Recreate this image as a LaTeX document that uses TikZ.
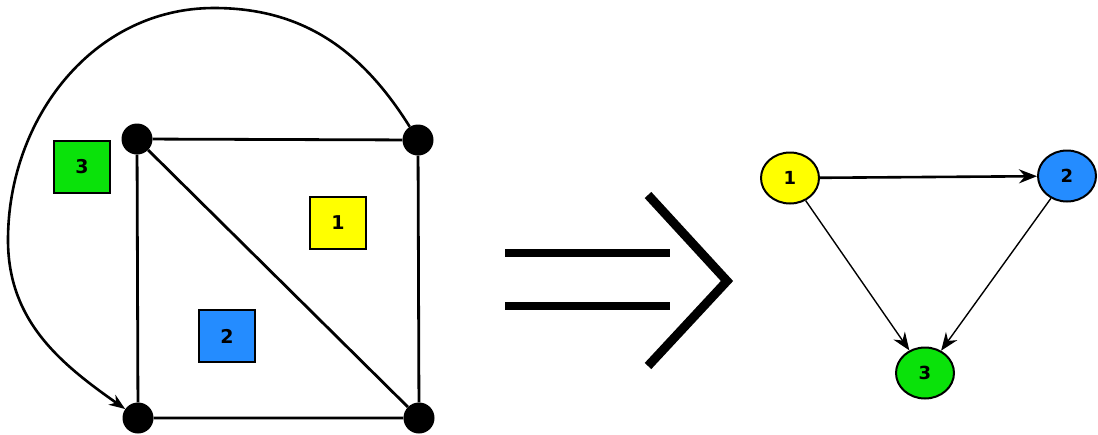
\documentclass[tikz,border=0pt]{standalone}
\usepackage{fontspec}
\setsansfont{DejaVu Sans}
\usetikzlibrary{arrows.meta,shapes.geometric}
\definecolor{cgreen}{RGB}{10,226,10}
\definecolor{cyellow}{RGB}{255,255,0}
\definecolor{cblue}{RGB}{36,140,255}
\begin{document}
\begin{tikzpicture}[x=1pt,y=-1pt,
  vdot/.style={circle,fill=black,minimum size=31pt,inner sep=0pt},
  face/.style={draw=black,line width=2.2pt,minimum width=56pt,minimum height=52pt,inner sep=0pt,
    font=\sffamily\bfseries\fontsize{19}{19}\selectfont},
  gnode/.style={ellipse,draw=black,line width=2pt,minimum width=58pt,minimum height=51pt,inner sep=0pt,
    font=\sffamily\bfseries\fontsize{18}{18}\selectfont},
  sqedge/.style={line width=2.8pt},
  implies/.style={line width=8pt},
  thickarr/.style={line width=2.6pt,-{Stealth[length=18pt,width=14pt,inset=6pt]}},
  thinarr/.style={line width=1.4pt,-{Stealth[length=18pt,width=14pt,inset=6pt]}}]
\useasboundingbox (0,0) rectangle (1098,434);
% left planar graph
\node[vdot] (tl) at (137,139) {};
\node[vdot] (tr) at (418,140) {};
\node[vdot] (bl) at (138,418) {};
\node[vdot] (br) at (419,418) {};
\draw[sqedge] (tl) -- (tr) -- (br) -- (bl) -- (tl);
\draw[sqedge] (tl) -- (br);
\coordinate (arcTop) at (214,8);
\coordinate (arcLeft) at (8,240);
\draw[line width=2.6pt,-{Stealth[length=16pt,width=12pt,inset=5pt]}]
  (tr) to[out=122,in=0] (arcTop) to[out=180,in=90] (arcLeft) to[out=-90,in=145] (bl);
\node[face,fill=cgreen] (f3) at (82,167) {3};
\node[face,fill=cyellow] (f1) at (338,223) {1};
\node[face,fill=cblue] (f2) at (227,336) {2};
% implies symbol
\coordinate (l1a) at (505,253); \coordinate (l1b) at (670,253);
\coordinate (l2a) at (505,306); \coordinate (l2b) at (670,306);
\draw[implies] (l1a) -- (l1b);
\draw[implies] (l2a) -- (l2b);
\coordinate (cva) at (648,195); \coordinate (cvb) at (727,281); \coordinate (cvc) at (648,366);
\draw[line width=9pt,miter limit=10] (cva) -- (cvb) -- (cvc);
% dual graph
\node[gnode,fill=cyellow] (n1) at (790,178) {1};
\node[gnode,fill=cblue] (n2) at (1067,176) {2};
\node[gnode,fill=cgreen] (n3) at (925,373) {3};
\draw[thickarr] (n1) -- (n2);
\draw[thinarr] (n1) -- (n3);
\draw[thinarr] (n2) -- (n3);
\end{tikzpicture}
\end{document}
